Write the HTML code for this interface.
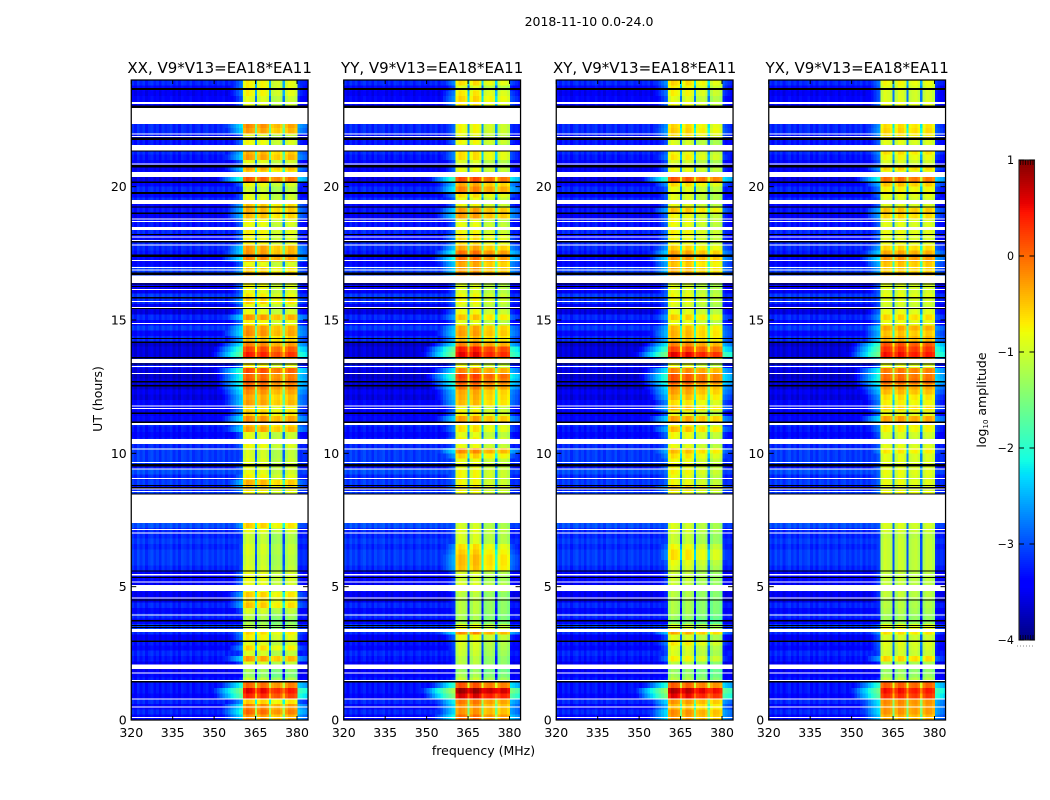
<!DOCTYPE html>
<html>
<head>
<meta charset="utf-8">
<title>2018-11-10 0.0-24.0</title>
<style>
html,body{margin:0;padding:0;background:#fff;}
svg{display:block;}
text{font-family:"DejaVu Sans","Liberation Sans",sans-serif;fill:#000;}
</style>
</head>
<body>
<svg id="chart" xmlns="http://www.w3.org/2000/svg" width="1050" height="800" viewBox="0 0 1050 800"></svg>
<script>
const panelTitles = ["XX, V9*V13=EA18*EA11", "YY, V9*V13=EA18*EA11", "XY, V9*V13=EA18*EA11", "YX, V9*V13=EA18*EA11"];
const figureTitle = "2018-11-10 0.0-24.0";
const xAxisTitle = "frequency (MHz)";
const yAxisTitle = "UT (hours)";
const xTickValues = [320, 335, 350, 365, 380];
const yTickValues = [0, 5, 10, 15, 20];
const colorbarTickValues = [1, 0, -1, -2, -3, -4];
const rowHours = 0.2;

const channelStartMHz = [320,321,322,323,324,325,326,327,328,329,330,331,332,333,334,335,336,337,338,339,340,341,342,343,344,345,346,347,348,349,350,351,352,353,354,355,356,357,358,359,360,360.5,361.6,362.7,363.8,364.8,365.6,366.7,367.8,368.9,369.9,370.6,371.7,372.7,373.8,374.8,375.6,376.7,377.9,379.1,380.2,381,382,383];
const channelBand = [-1,-1,-1,-1,-1,-1,-1,-1,-1,-1,-1,-1,-1,-1,-1,-1,-1,-1,-1,-1,-1,-1,-1,-1,-1,-1,-1,-1,-1,-1,-1,-1,-1,-1,-1,-1,-1,-1,-1,-1,-1,0,0,0,0,-1,1,1,1,1,-1,2,2,2,2,-1,3,3,3,3,-1,-1,-1,-1];
const channelGain = [1,1,1,1,1,1,1,1,1,1,1,1,1,1,1,1,1,1,1,1,1,1,1,1,1,1,1,1,1,1,1,1,1,1,1,1,1,1,1,1,1,1,1,1,1,1.9,1,1,1,1,1.9,1,1,1,1,1.9,1,1,1,1,1,1,1,1];
const channelResponse = [-6,-6,-6,-6,-6,-6,-6,-6,-6,-6,-6,-6,-6,-6,-6,-6,-6,-6,-6,-6,-6,-6,-6,-6,-5,-5,-4.6,-4.3,-4,-3.8,-3.6,-3.4,-3.2,-3,-2.85,-2.7,-2.5,-2.35,-2.2,-2.05,-1.9,-0.12,0.03,0.03,-0.1,-1.0,-0.12,0.03,0.03,-0.1,-1.0,-0.12,0.03,0.03,-0.1,-1.0,-0.1,0.03,0.03,-0.12,-2.3,-2.4,-2.5,-2.6];
const channelTexture = [0.05,-0.08,0.1,-0.03,0.08,-0.1,0.03,0.1,-0.05,0.05,-0.1,0.08,-0.03,0.03,0.1,-0.08,0.05,-0.1,0.08,0.03,-0.05,0.1,-0.08,0,0.05,-0.1,0.03,0.08,-0.05,0.03,-0.08,0.05,-0.03,0.08,-0.1,0.03,-0.05,0.05,-0.03,0.03,-0.05,0,0.04,-0.03,0,0,-0.03,0.04,0,-0.02,0,0.03,-0.03,0.02,0,0,-0.02,0.03,0,0.02,-0.05,-0.1,-0.03,-0.1];
const floorShift = -0.2;

const rowFloor = [
-3.2,-3.0,-3.2,-3.0,-3.2,-3.1,-3.1,-3.1,-3.2,-3.3,
-3.3,-3.1,-3.0,-3.2,-3.1,-3.3,-3.0,-2.9,-3.2,-3.0,
-3.2,-3.0,-3.4,-3.3,-3.2,-3.3,-3.2,-3.2,-3.0,-2.9,
-2.9,-2.9,-3.0,-2.9,-3.0,-3.0,-2.8,-3.0,-3.0,-3.0,
-3.0,-3.0,-2.9,-3.1,-2.9,-3.0,-2.8,-3.1,-2.9,-2.9,
-2.9,-3.0,-3.1,-3.2,-3.1,-3.0,-3.2,-3.3,-3.2,-3.2,
-3.4,-3.3,-3.5,-3.4,-3.5,-3.4,-3.1,-3.1,-3.4,-3.4,
-3.5,-3.0,-3.2,-2.9,-3.2,-3.0,-3.4,-3.3,-3.0,-2.9,
-3.3,-3.2,-3.0,-2.9,-2.9,-3.2,-3.2,-3.1,-3.0,-3.0,
-3.2,-3.0,-3.1,-3.1,-3.3,-3.1,-3.2,-3.0,-3.2,-3.0,
-3.2,-3.4,-3.2,-3.3,-3.2,-3.1,-3.0,-3.1,-3.1,-3.1,
-3.0,-3.0,-3.0,-3.0,-3.0,-3.2,-3.2,-3.3,-3.2,-3.0];

const xxBandOffsets = [0.05, 0, -0.2, -0.1];
const yyBandOffsets = [0.05, 0.05, -0.15, -0.2];
const xyBandOffsets = [0.05, 0, -0.15, -0.25];
const yxBandOffsets = [0, 0, -0.05, -0.05];

const xxBandLevels = [
-0.3,-0.05,-0.2,-0.6,0.3,0.5,-0.05,-1.1,-1.4,-1.3,
-1.0,-0.35,-1.0,-0.65,-0.95,-0.8,-0.65,-1.2,-1.3,-1.2,
-1.0,-0.55,-0.7,-0.6,-0.9,-0.9,-0.9,-0.9,-1.0,-1.05,
-1.05,-1.0,-1.0,-1.1,-1.1,-0.9,-0.6,-0.9,-0.9,-0.9,
-0.9,-0.9,-0.85,-0.6,-0.45,-0.8,-0.9,-0.9,-0.95,-1.0,
-1.0,-0.85,-0.9,-0.95,-0.35,-0.5,-0.25,-0.6,-0.7,-0.35,
-0.4,-0.25,-0.1,0.0,-0.05,0.1,-0.8,-0.4,0.35,0.15,
-0.2,-0.5,-0.25,-0.3,-0.8,-0.3,-0.9,-0.9,-0.6,-0.75,
-0.9,-0.85,-0.9,-0.45,-0.6,-0.9,-0.2,-0.3,-0.35,-0.8,
-0.85,-0.8,-0.9,-0.85,-0.5,-0.45,-0.55,-0.9,-0.95,-1.05,
-0.85,0.0,-0.6,-0.4,-0.9,-0.35,-0.45,-0.9,-0.85,-0.95,
-0.35,-0.25,-0.9,-0.9,-0.9,-0.95,-0.95,-0.8,-0.8,-0.8];

const yyBandLevels = [
-0.1,-0.3,-0.3,-0.15,0.55,0.8,0.05,-1.1,-1.3,-1.4,
-1.2,-1.2,-1.1,-1.05,-1.0,-0.9,-0.25,-0.9,-1.3,-1.3,
-1.2,-1.2,-1.2,-1.2,-1.0,-1.0,-1.1,-1.0,-0.55,-0.5,
-0.5,-0.6,-0.7,-1.0,-1.0,-0.95,-1.05,-0.9,-0.9,-0.9,
-0.9,-0.9,-0.9,-0.75,-0.85,-0.85,-0.85,-0.9,-0.9,-0.6,
-0.25,-0.9,-0.8,-0.95,-0.7,-0.75,-0.35,-0.8,-0.9,-0.5,
-0.45,-0.4,-0.15,0.05,0.15,-0.2,-0.9,-0.4,0.5,0.35,
-0.2,-0.5,-0.35,-0.4,-0.95,-0.55,-0.85,-1.0,-0.85,-0.85,
-1.0,-1.0,-0.9,-0.25,-0.35,-0.4,-0.1,-0.1,-0.4,-0.7,
-0.7,-0.85,-0.9,-0.95,-0.35,-0.35,-0.85,-0.9,-0.7,-0.2,
-0.4,0.1,-0.9,-0.9,-1.0,-0.7,-0.7,-1.0,-0.85,-0.95,
-0.85,-0.85,-0.9,-0.9,-0.9,-0.75,-0.65,-0.75,-1.0,-0.7];

const xyBandLevels = [
-0.3,-0.25,-0.5,-0.3,0.5,0.7,0.0,-1.2,-1.35,-1.4,
-1.2,-0.8,-1.0,-0.95,-0.75,-1.0,-0.4,-1.0,-1.45,-1.35,
-1.25,-1.25,-1.25,-1.2,-1.2,-1.1,-1.1,-1.1,-1.0,-0.9,
-0.7,-0.7,-0.85,-1.1,-1.1,-1.0,-1.0,-0.9,-0.9,-0.9,
-0.9,-0.9,-0.9,-0.6,-0.85,-0.9,-0.8,-0.85,-0.85,-0.7,
-0.5,-0.9,-0.9,-0.85,-0.5,-0.8,-0.35,-0.9,-0.5,-0.7,
-0.5,-0.35,-0.25,0.05,0.05,-0.2,-0.9,-0.5,0.5,0.15,
-0.2,-0.5,-0.45,-0.5,-0.9,-0.6,-0.9,-1.0,-0.9,-0.85,
-0.95,-1.0,-0.9,-0.4,-0.45,-0.55,-0.3,-0.35,-0.6,-0.85,
-0.85,-0.8,-0.9,-0.85,-0.85,-0.55,-0.9,-0.95,-0.95,-0.9,
-0.65,0.05,-0.9,-0.85,-1.0,-0.75,-0.85,-0.95,-1.0,-0.7,
-0.6,-0.65,-0.9,-0.9,-0.9,-0.85,-0.95,-0.8,-0.8,-0.65];

const yxBandLevels = [
-0.4,-0.25,-0.25,-0.2,0.3,0.45,0.05,-1.1,-1.3,-1.35,
-1.2,-0.6,-1.0,-0.95,-0.9,-1.0,-0.65,-0.85,-1.3,-1.3,
-1.2,-1.15,-1.2,-1.1,-1.1,-1.1,-1.1,-1.1,-1.05,-1.05,
-1.05,-1.05,-1.05,-1.05,-1.1,-1.0,-0.95,-0.9,-0.9,-0.9,
-0.9,-0.9,-0.8,-0.9,-0.85,-0.9,-0.85,-0.9,-0.9,-0.9,
-0.7,-0.9,-1.0,-0.95,-0.75,-0.7,-0.3,-0.85,-0.6,-0.75,
-0.65,-0.45,-0.3,0.0,-0.05,-0.1,-0.9,-0.3,0.45,0.3,
0.1,-0.4,-0.5,-0.35,-0.85,-0.6,-0.85,-1.0,-0.95,-0.85,
-0.95,-0.95,-0.9,-0.45,-0.55,-0.5,-0.25,-0.35,-0.6,-0.85,
-0.9,-0.85,-0.9,-0.9,-0.6,-0.5,-0.9,-0.95,-0.85,-0.75,
-0.5,-0.05,-0.85,-0.6,-0.95,-0.8,-0.65,-0.95,-0.9,-0.7,
-0.6,-0.65,-0.9,-0.9,-0.9,-0.85,-0.95,-0.95,-0.9,-0.8];

const flaggedStartHours = [0.08,0.47,0.76,1.46,1.74,1.91,3.30,3.92,4.55,4.84,5.16,5.41,6.99,7.13,7.39,8.55,8.65,9.05,9.40,9.65,10.15,10.35,11.06,11.67,11.77,12.99,13.23,13.38,14.85,15.45,15.68,16.13,16.38,16.86,16.96,17.21,17.80,17.97,18.10,18.38,18.68,18.78,19.35,20.36,20.83,21.36,21.87,21.96,22.35,23.10];
const flaggedEndHours = [0.12,0.51,0.80,1.50,1.78,2.09,3.42,3.96,4.59,5.06,5.19,5.48,7.03,7.17,8.45,8.58,8.68,9.08,9.43,9.68,10.18,10.54,11.14,11.70,11.80,13.02,13.27,13.53,14.89,15.49,15.71,16.16,16.66,16.89,16.99,17.25,17.83,18.00,18.13,18.49,18.71,18.81,19.50,20.55,20.87,21.56,21.90,22.00,22.95,23.17];
const darkLineHours = [1.42,1.46,2.95,3.47,3.54,3.72,4.50,5.34,5.59,8.47,8.71,8.79,9.53,9.58,11.16,11.50,12.53,12.68,13.35,13.58,14.16,14.30,15.43,15.83,16.25,16.35,16.71,16.75,17.39,17.43,17.93,18.20,19.00,19.24,19.74,19.78,20.16,20.74,20.78,21.34,21.77,21.81,22.97,23.01,23.64,23.68];

const panelLefts = [131.25, 343.75, 556.25, 768.75];
const panelWidth = 176.8;
const panelTop = 80;
const panelHeight = 640;
const freqMin = 320, freqMax = 384, hourMin = 0, hourMax = 24;
const cbarLeft = 1019, cbarWidth = 15.5, cbarTop = 160, cbarHeight = 480, cbarMin = -4, cbarMax = 1;

const panelBandLevels = [xxBandLevels, yyBandLevels, xyBandLevels, yxBandLevels];
const panelBandOffsets = [xxBandOffsets, yyBandOffsets, xyBandOffsets, yxBandOffsets];
const panelSlugs = ["xx", "yy", "xy", "yx"];

const SVGNS = "http://www.w3.org/2000/svg";
const root = document.getElementById("chart");

function make(tag, attrs, parent) {
  const node = document.createElementNS(SVGNS, tag);
  for (const k in attrs) node.setAttribute(k, attrs[k]);
  (parent || root).appendChild(node);
  return node;
}
function xScale(mhz, p) { return panelLefts[p] + (mhz - freqMin) / (freqMax - freqMin) * panelWidth; }
function yScale(hour) { return panelTop + panelHeight - (hour - hourMin) / (hourMax - hourMin) * panelHeight; }
function cbarScale(v) { return cbarTop + cbarHeight - (v - cbarMin) / (cbarMax - cbarMin) * cbarHeight; }
function clamp01(t) { return Math.max(0, Math.min(1, t)); }
function jet(value) {
  const t = clamp01((value - cbarMin) / (cbarMax - cbarMin));
  let r, g, b;
  if (t < 0.35) r = 0; else if (t < 0.66) r = (t - 0.35) / 0.31; else if (t < 0.89) r = 1; else r = 1 - (t - 0.89) / 0.11 * 0.5;
  if (t < 0.125) g = 0; else if (t < 0.375) g = (t - 0.125) / 0.25; else if (t < 0.64) g = 1; else if (t < 0.91) g = 1 - (t - 0.64) / 0.27; else g = 0;
  if (t < 0.11) b = 0.5 + t / 0.11 * 0.5; else if (t < 0.34) b = 1; else if (t < 0.65) b = 1 - (t - 0.34) / 0.31; else b = 0;
  return "rgb(" + Math.round(r * 255) + "," + Math.round(g * 255) + "," + Math.round(b * 255) + ")";
}
function minusText(v) { return v < 0 ? "\u2212" + Math.abs(v) : String(v); }

function drawPanel(p) {
  const group = make("g", {});
  
  

  const cells = make("g", { "shape-rendering": "crispEdges" }, group);
  
  
  const levels = panelBandLevels[p];
  const offsets = panelBandOffsets[p];
  for (let r = 0; r < levels.length; r++) {
    const yTop = yScale((r + 1) * rowHours);
    const yBot = yScale(r * rowHours);
    for (let c = 0; c < channelStartMHz.length; c++) {
      const x0 = xScale(channelStartMHz[c], p);
      const x1 = xScale(c + 1 < channelStartMHz.length ? channelStartMHz[c + 1] : freqMax, p);
      const band = channelBand[c];
      const signal = levels[r] * channelGain[c] + channelResponse[c] + (band >= 0 ? offsets[band] : 0);
      const floor = rowFloor[r] + floorShift + channelTexture[c];
      const inBand = band >= 0;
      const value = inBand ? signal + channelTexture[c] : Math.max(floor, signal);
      const cell = make("rect", { x: x0.toFixed(2), y: yTop.toFixed(2), width: (x1 - x0).toFixed(2), height: (yBot - yTop).toFixed(2), fill: jet(value) }, cells);
      
      
    }
  }

  const overlays = make("g", { "shape-rendering": "crispEdges" }, group);
  
  
  for (let i = 0; i < darkLineHours.length; i++) {
    const yA = yScale(darkLineHours[i] + 0.025);
    const line = make("rect", { x: panelLefts[p], y: yA.toFixed(2), width: panelWidth, height: 1.2, fill: "#000" }, overlays);
    
    
  }
  for (let i = 0; i < flaggedStartHours.length; i++) {
    const yA = yScale(flaggedEndHours[i]);
    const yB = yScale(flaggedStartHours[i]);
    const gap = make("rect", { x: panelLefts[p], y: yA.toFixed(2), width: panelWidth, height: Math.max(1, yB - yA).toFixed(2), fill: "#fff" }, overlays);
    
    
  }

  xTickValues.forEach(function (tick) {
    const x = xScale(tick, p);
    const bottomTick = make("line", { x1: x, x2: x, y1: panelTop + panelHeight, y2: panelTop + panelHeight - 4, stroke: "#000", "stroke-width": 1 }, group);
    
    
    const topTick = make("line", { x1: x, x2: x, y1: panelTop, y2: panelTop + 4, stroke: "#000", "stroke-width": 1 }, group);
    
    
    const label = make("text", { x: x, y: 737, "text-anchor": "middle", "font-size": 12.5 }, group);
    label.textContent = tick;
    
    
  });
  yTickValues.forEach(function (tick) {
    const y = yScale(tick);
    const leftTick = make("line", { x1: panelLefts[p], x2: panelLefts[p] + 5, y1: y, y2: y, stroke: "#000", "stroke-width": 1 }, group);
    
    
    const rightTick = make("line", { x1: panelLefts[p] + panelWidth, x2: panelLefts[p] + panelWidth - 5, y1: y, y2: y, stroke: "#000", "stroke-width": 1 }, group);
    
    
    const label = make("text", { x: panelLefts[p] - 4.5, y: y + 4.5, "text-anchor": "end", "font-size": 12.5 }, group);
    label.textContent = tick;
    
    
  });

  const frame = make("rect", { x: panelLefts[p], y: panelTop, width: panelWidth, height: panelHeight, fill: "none", stroke: "#000", "stroke-width": 1.25 }, group);
  
  

  const title = make("text", { x: panelLefts[p] + panelWidth / 2, y: 73, "text-anchor": "middle", "font-size": 15 }, group);
  title.textContent = panelTitles[p];
  
  
}

for (let p = 0; p < panelLefts.length; p++) drawPanel(p);

const suptitle = make("text", { x: 589, y: 26, "text-anchor": "middle", "font-size": 12.5 });
suptitle.textContent = figureTitle;



const xLabel = make("text", { x: 483.5, y: 755, "text-anchor": "middle", "font-size": 12.5 });
xLabel.textContent = xAxisTitle;



const yLabel = make("text", { x: 0, y: 0, transform: "translate(102 399) rotate(-90)", "text-anchor": "middle", "font-size": 12.5 });
yLabel.textContent = yAxisTitle;



const cbarGroup = make("g", {});


const cbarSteps = 240;
const cbarSwatches = make("g", { "shape-rendering": "crispEdges" }, cbarGroup);


for (let i = 0; i < cbarSteps; i++) {
  const lo = cbarMin + (cbarMax - cbarMin) * i / cbarSteps;
  const hi = cbarMin + (cbarMax - cbarMin) * (i + 1) / cbarSteps;
  const swatch = make("rect", { x: cbarLeft, y: cbarScale(hi), width: cbarWidth, height: cbarScale(lo) - cbarScale(hi), fill: jet((lo + hi) / 2) }, cbarSwatches);
  
  
}
const cbarFrame = make("rect", { x: cbarLeft, y: cbarTop, width: cbarWidth, height: cbarHeight, fill: "none", stroke: "#222", "stroke-width": 1.1 }, cbarGroup);


colorbarTickValues.forEach(function (tick) {
  const y = cbarScale(tick);
  const left = make("line", { x1: cbarLeft, x2: cbarLeft + 5, y1: y, y2: y, stroke: "#000", "stroke-width": 1 }, cbarGroup);
  
  
  const right = make("line", { x1: cbarLeft + cbarWidth, x2: cbarLeft + cbarWidth - 5, y1: y, y2: y, stroke: "#000", "stroke-width": 1 }, cbarGroup);
  
  
  const label = make("text", { x: 1014, y: y + 4, "text-anchor": "end", "font-size": 11.1 }, cbarGroup);
  label.textContent = minusText(tick);
  
  
});
for (let i = 0; i < 6; i++) {
  const x = cbarLeft + 2.5 * (i + 0.6);
  const topMinor = make("line", { x1: x, x2: x, y1: cbarTop, y2: cbarTop + 5, stroke: "#000", "stroke-width": 0.7 }, cbarGroup);
  
  
  const bottomMinor = make("line", { x1: x, x2: x, y1: cbarTop + cbarHeight, y2: cbarTop + cbarHeight - 5, stroke: "#000", "stroke-width": 0.7 }, cbarGroup);
  
  
}
const cbarDots = make("line", { x1: 1017, x2: 1035, y1: 646, y2: 646, stroke: "#888", "stroke-width": 1, "stroke-dasharray": "1 2" }, cbarGroup);



const cbarLabel = make("text", { x: 0, y: 0, transform: "translate(986 400) rotate(-90)", "text-anchor": "middle", "font-size": 12.5 }, cbarGroup);


cbarLabel.appendChild(document.createTextNode("log"));
const cbarSub = make("tspan", { "font-size": 7, dy: 2 }, cbarLabel);
cbarSub.textContent = "10";


const cbarRest = make("tspan", { dy: -2 }, cbarLabel);
cbarRest.textContent = " amplitude";


</script>
</body>
</html>
